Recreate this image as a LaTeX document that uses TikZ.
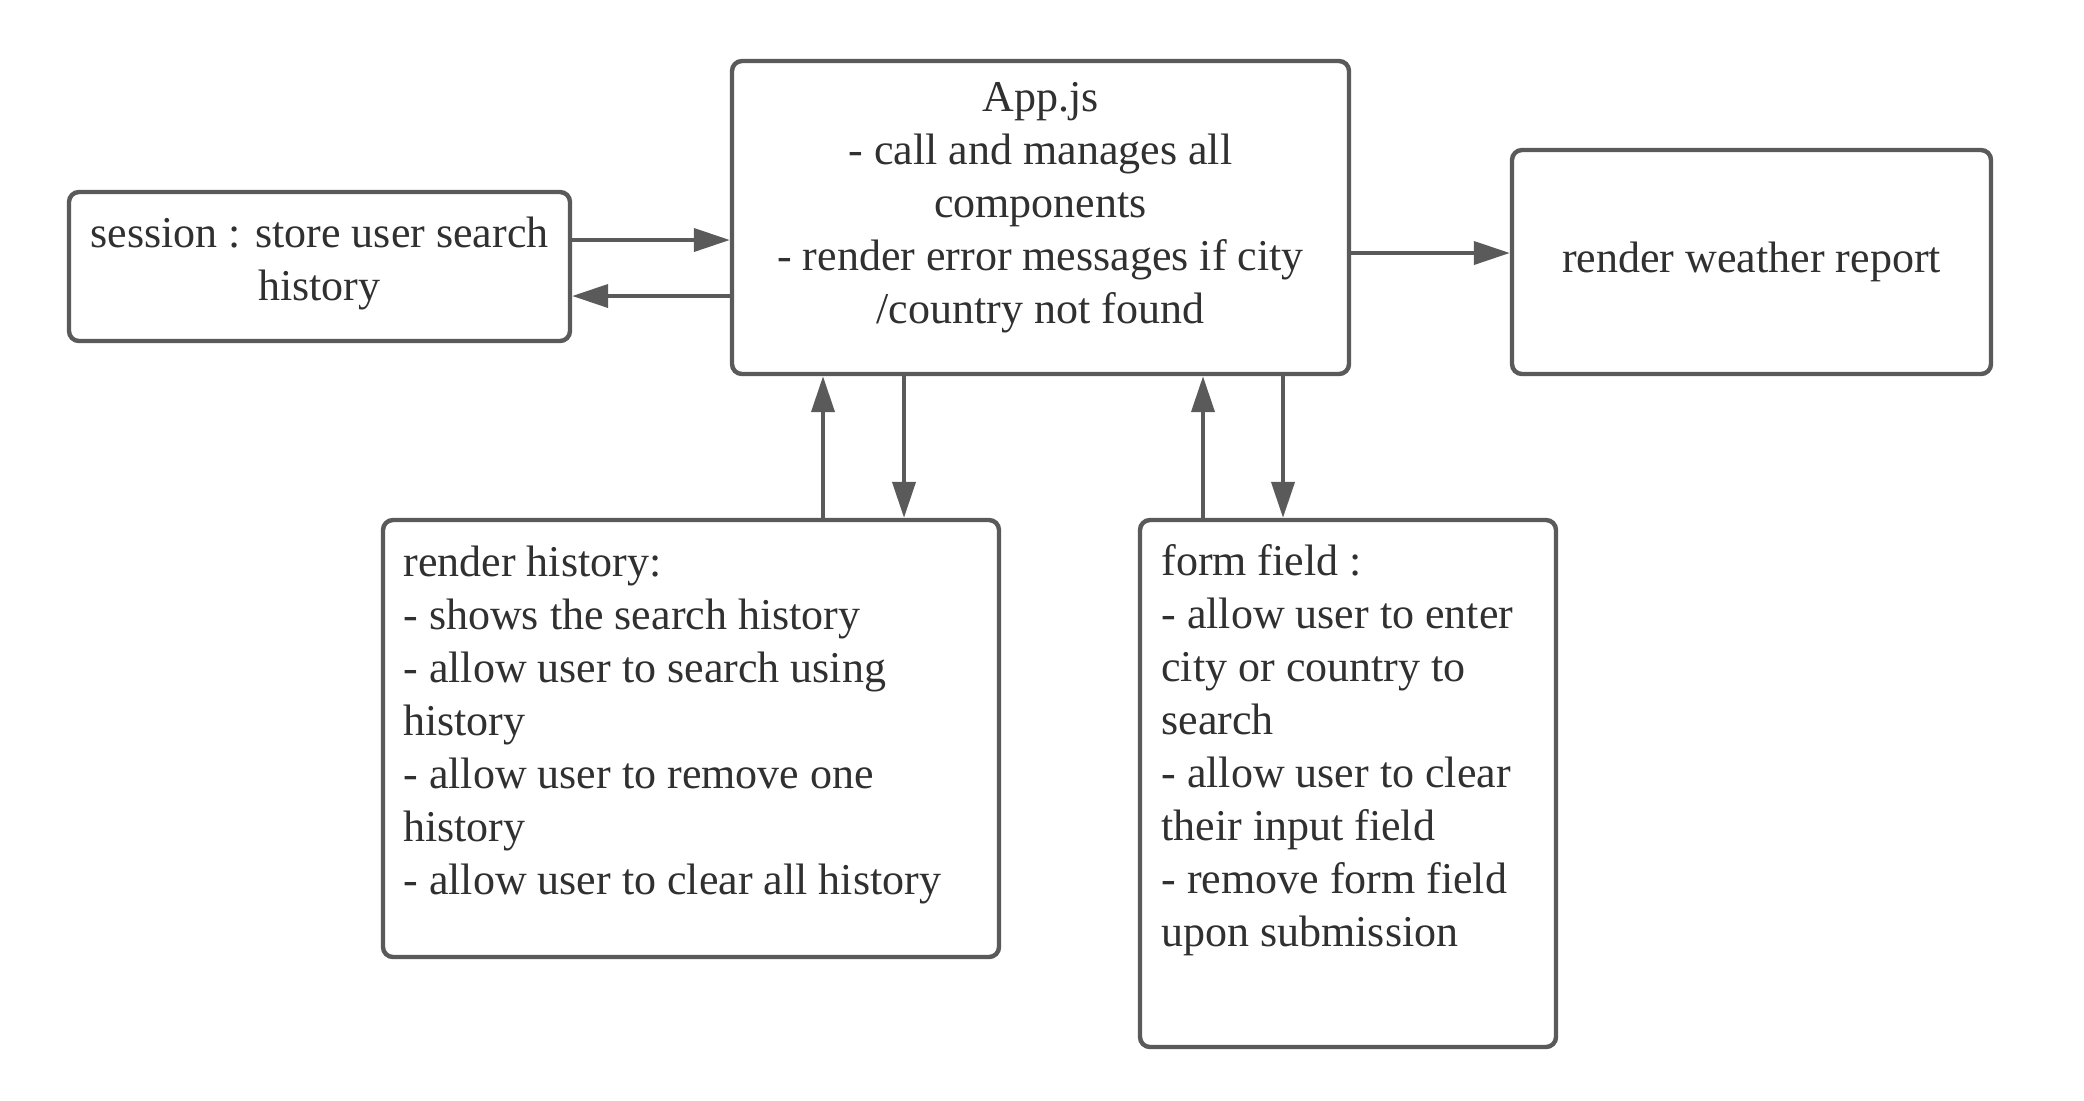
\documentclass[tikz,border=0pt]{standalone}
\usepackage{fontspec}
\setmainfont{Liberation Serif}
\usetikzlibrary{arrows.meta}
\definecolor{linegray}{HTML}{5A5A5A}
\definecolor{textgray}{HTML}{303030}
\tikzset{
  box/.style={draw=linegray, line width=2.2pt, rounded corners=5pt, fill=white, inner sep=0pt},
  txt/.style={text=textgray, inner sep=0pt, font={\fontsize{22}{26.5}\selectfont}},
  conn/.style={draw=linegray, line width=2pt, -{Triangle[length=18pt,width=11.5pt]}}
}
\newcommand{\fl}{\rule{0pt}{16pt}}
\begin{document}
\begin{tikzpicture}[x=0.5pt,y=-0.5pt]
\useasboundingbox[fill=white] (0,0) rectangle (2084,1100);
% boxes
\node[box, minimum width=250.5pt, minimum height=74.5pt] (sess) at (319.5,266.5) {};
\node[box, minimum width=308.5pt, minimum height=156.5pt] (app) at (1040.5,217.5) {};
\node[box, minimum width=239.5pt, minimum height=112pt] (wea) at (1751.5,262) {};
\node[box, minimum width=308pt, minimum height=218.5pt] (hist) at (691,738.5) {};
\node[box, minimum width=208pt, minimum height=263.5pt] (form) at (1348,783.5) {};
% texts
\node[txt, align=center, anchor=north] (sesst) at (319.5,215) {\fl session : store user search\\history};
\node[txt, align=center, anchor=north] (appt) at (1040.5,79) {\fl App.js\\- call and manages all\\components\\- render error messages if city\\/country not found};
\node[txt, anchor=base] (weat) at (1751.5,272) {render weather report};
\node[txt, align=left, anchor=north west] (histt) at (403,544) {\fl render history:\\- shows the search history\\- allow user to search using\\history\\- allow user to remove one\\history\\- allow user to clear all history};
\node[txt, align=left, anchor=north west] (formt) at (1161,543) {\fl form field :\\- allow user to enter\\city or country to\\search\\- allow user to clear\\their input field\\- remove form field\\upon submission};
% connectors
\draw[conn] (sess.east |- 0,240) -- (app.west |- 0,240);
\draw[conn] (app.west |- 0,296) -- (sess.east |- 0,296);
\draw[conn] (app.east |- 0,253) -- (wea.west |- 0,253);
\draw[conn] (hist.north -| 823,0) -- (app.south -| 823,0);
\draw[conn] (app.south -| 904,0) -- (hist.north -| 904,0);
\draw[conn] (form.north -| 1203,0) -- (app.south -| 1203,0);
\draw[conn] (app.south -| 1283,0) -- (form.north -| 1283,0);
\end{tikzpicture}
\end{document}
